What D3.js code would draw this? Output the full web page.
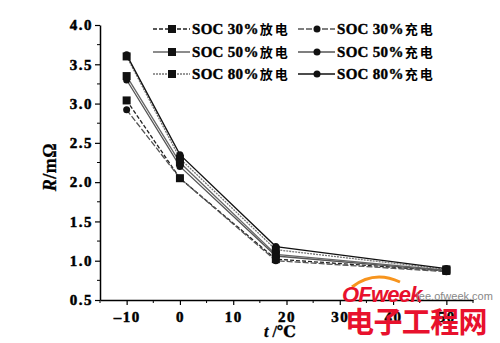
<!DOCTYPE html>
<html>
<head>
<meta charset="utf-8">
<script src="https://cdn.jsdelivr.net/npm/d3@7"></script>
<style>
  html, body { margin: 0; padding: 0; background: #fff; }
  svg { display: block; }
</style>
</head>
<body>
<script>
// Temperatures (°C) at which internal resistance was measured
const temps = [-10, 0, 18, 50];

// Internal resistance R (mΩ) per state of charge, discharge and charge
const soc30Discharge = [3.04, 2.05, 1.02, 0.87];
const soc30Charge    = [2.92, 2.05, 1.00, 0.86];
const soc50Discharge = [3.35, 2.25, 1.08, 0.88];
const soc50Charge    = [3.30, 2.20, 1.06, 0.87];
const soc80Discharge = [3.60, 2.30, 1.14, 0.89];
const soc80Charge    = [3.62, 2.35, 1.18, 0.90];

const seriesLabels = ["SOC 30%放电", "SOC 30%充电", "SOC 50%放电", "SOC 50%充电", "SOC 80%放电", "SOC 80%充电"];

const xTicks = [-10, 0, 10, 20, 30, 40, 50];
const yTicks = [0.5, 1.0, 1.5, 2.0, 2.5, 3.0, 3.5, 4.0];

const W = 500, H = 343;
const svg = d3.select("body").append("svg").attr("width", W).attr("height", H);

const x = d3.scaleLinear().domain([-15, 55]).range([100, 473]);
const y = d3.scaleLinear().domain([0.5, 4.0]).range([300, 25]);

const serif = "'Liberation Serif', 'DejaVu Serif', serif";
const cjk = "'Noto Sans CJK SC', sans-serif";

// series styling: marker shape + stroke
const styles = [
  { values: soc30Discharge, marker: "square", stroke: "#222", dash: "4,2" },
  { values: soc30Charge,    marker: "circle", stroke: "#555", dash: "6,2" },
  { values: soc50Discharge, marker: "square", stroke: "#666", dash: null },
  { values: soc50Charge,    marker: "circle", stroke: "#555", dash: null },
  { values: soc80Discharge, marker: "square", stroke: "#777", dash: "2,1" },
  { values: soc80Charge,    marker: "circle", stroke: "#111", dash: null }
];

// heavy print-style text
function ink(sel, w) {
  return sel.attr("stroke", "#000").attr("stroke-width", w).attr("paint-order", "stroke");
}

// axes
const xAxis = d3.axisBottom(x).tickValues(xTicks).tickSize(5).tickSizeOuter(0)
  .tickFormat(d => d < 0 ? "\u2013" + Math.abs(d) : d);
const gx = svg.append("g").attr("transform", "translate(0,300)").call(xAxis);
gx.select(".domain").attr("stroke", "#000").attr("stroke-width", 1.5);
gx.selectAll(".tick line").attr("stroke", "#000").attr("stroke-width", 1.2);
ink(gx.selectAll(".tick text").attr("font-family", serif).attr("font-weight", "bold")
  .attr("font-size", 15).attr("letter-spacing", 1.5).attr("dy", "0.95em").attr("fill", "#000"), 0.5);
// minor x ticks
svg.append("g").selectAll("line").data(d3.range(-15, 56, 10)).join("line")
  .attr("x1", d => x(d)).attr("x2", d => x(d)).attr("y1", 300).attr("y2", 303)
  .attr("stroke", "#000").attr("stroke-width", 1);

const yAxis = d3.axisLeft(y).tickValues(yTicks).tickSize(5).tickSizeOuter(0)
  .tickFormat(d3.format(".1f"));
const gy = svg.append("g").attr("transform", "translate(100,0)").call(yAxis);
gy.select(".domain").attr("stroke", "#000").attr("stroke-width", 1.5);
gy.selectAll(".tick line").attr("stroke", "#000").attr("stroke-width", 1.2);
ink(gy.selectAll(".tick text").attr("font-family", serif).attr("font-weight", "bold")
  .attr("font-size", 15).attr("letter-spacing", 1.5).attr("x", -7).attr("fill", "#000"), 0.5);
// minor y ticks
svg.append("g").selectAll("line").data(d3.range(0.75, 4.0, 0.5)).join("line")
  .attr("x1", 100).attr("x2", 97).attr("y1", d => y(d)).attr("y2", d => y(d))
  .attr("stroke", "#000").attr("stroke-width", 1);

// axis titles
const yTitle = ink(svg.append("text")
  .attr("transform", "translate(56,167) rotate(-90)")
  .attr("text-anchor", "middle").attr("font-family", serif).attr("font-weight", "bold")
  .attr("font-size", 18).attr("letter-spacing", 0.5), 0.3);
yTitle.append("tspan").attr("font-style", "italic").text("R");
yTitle.append("tspan").text("/mΩ");

const xTitle = ink(svg.append("text").attr("x", 280).attr("y", 337)
  .attr("text-anchor", "middle").attr("font-family", serif).attr("font-weight", "bold")
  .attr("font-size", 16), 0.3);
xTitle.append("tspan").attr("font-style", "italic").text("t");
xTitle.append("tspan").text(" /℃");

// lines and markers
const line = d3.line().x((d, i) => x(temps[i])).y(d => y(d));
const plot = svg.append("g");
styles.forEach(s => {
  plot.append("path").attr("d", line(s.values)).attr("fill", "none")
    .attr("stroke", s.stroke).attr("stroke-width", 1.3)
    .attr("stroke-dasharray", s.dash);
});
function drawMarker(g, shape, cx, cy) {
  if (shape === "square") {
    g.append("rect").attr("x", cx - 4).attr("y", cy - 4).attr("width", 8).attr("height", 8).attr("fill", "#111");
  } else {
    g.append("circle").attr("cx", cx).attr("cy", cy).attr("r", 3.5).attr("fill", "#111");
  }
}
styles.forEach(s => {
  s.values.forEach((v, i) => drawMarker(plot, s.marker, x(temps[i]), y(v)));
});

// legend: left column discharge, right column charge
const legend = svg.append("g");
const rowsY = [29, 52, 74];
styles.forEach((s, k) => {
  const row = Math.floor(k / 2), col = k % 2;
  const x0 = col === 0 ? 153 : 298;
  const ly = rowsY[row];
  legend.append("line").attr("x1", x0).attr("x2", x0 + 37).attr("y1", ly).attr("y2", ly)
    .attr("stroke", s.stroke).attr("stroke-width", 1.3).attr("stroke-dasharray", s.dash);
  drawMarker(legend, s.marker, x0 + 19, ly);
  const t = ink(legend.append("text").attr("x", x0 + 39).attr("y", ly + 5)
    .attr("font-family", serif).attr("font-weight", "bold").attr("font-size", 15), 0.4);
  const label = seriesLabels[k];
  const m = label.match(/^(SOC \d+%)(.*)$/);
  t.append("tspan").attr("letter-spacing", 0.3).text(m[1]);
  t.append("tspan").attr("font-family", cjk).attr("font-weight", "bold")
    .attr("font-size", 13).attr("letter-spacing", 2).attr("dx", 1).attr("stroke-width", 0).text(m[2]);
});

// site mark in the lower right corner
const mark = svg.append("g");
mark.append("path").attr("d", "M352,287 Q374,270 400,282").attr("fill", "none")
  .attr("stroke", "#f7941d").attr("stroke-width", 3);
mark.append("text").attr("x", 342).attr("y", 302).attr("font-family", "'Liberation Sans', sans-serif")
  .attr("font-weight", "bold").attr("font-style", "italic").attr("font-size", 22)
  .attr("fill", "#e8112d").attr("letter-spacing", -0.8).text("OFweek");
mark.append("text").attr("x", 416).attr("y", 300).attr("font-family", "'Liberation Sans', sans-serif")
  .attr("font-size", 11).attr("fill", "#888").text("|ee.ofweek.com");
mark.append("text").attr("x", 345).attr("y", 333).attr("font-family", cjk)
  .attr("font-weight", "bold").attr("font-size", 29).attr("fill", "#e8112d")
  .attr("letter-spacing", -0.6).text("电子工程网");
</script>
</body>
</html>
